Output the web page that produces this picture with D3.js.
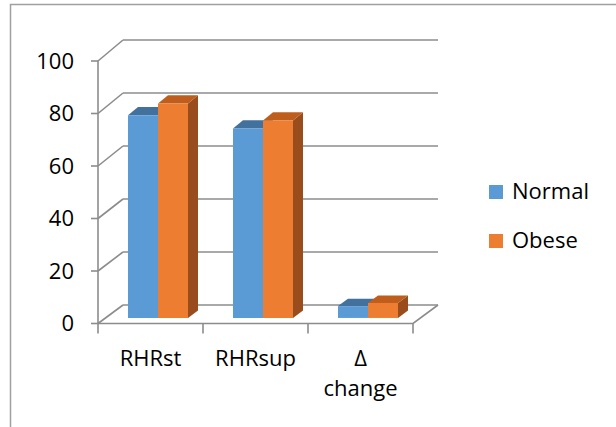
<!DOCTYPE html>
<html>
<head>
<meta charset="utf-8">
<script src="https://cdn.jsdelivr.net/npm/d3@7"></script>
<style>
  body { margin: 0; background: #fff; }
  text { font-family: 'Open Sans', sans-serif; fill: #000; }
</style>
</head>
<body>
<div id="chart"></div>
<script>
const categories = [['RHRst'], ['RHRsup'], ['\u0394', 'change']]
const seriesNames = ['Normal', 'Obese']
const normal = [77, 72, 4.5]
const obese = [81.5, 75, 5.7]
const yTicks = [0, 20, 40, 60, 80, 100]

const colors = {
  Normal: { front: '#5b9bd5', top: '#41719c', side: '#3f6e9a' },
  Obese: { front: '#ed7d31', top: '#bf5e1c', side: '#9a4d1c' }
}

const w = 616, h = 427
const depth = 25 // x shift from front to back wall
const gridColor = '#8c8c8c'
const fontSize = '22px'

const svg = d3.select('#chart').append('svg').attr('width', w).attr('height', h)

// outer frame (only top and left edge visible)
svg.append('path')
  .attr('d', 'M10.5,427V4.5H616')
  .attr('fill', 'none').attr('stroke', '#a0a0a0').attr('stroke-width', 1.5)

const keys = categories.map((c, i) => i)
let x0 = d3.scaleBand().domain(keys).range([98, 413])
let yFront = d3.scaleLinear().domain([0, 100]).range([323.5, 61])
let yBack = d3.scaleLinear().domain([0, 100]).range([305, 40])

// point on a plane between front (t=0) and back (t=1)
function proj (xf, v, t) {
  return [xf + depth * t, yFront(v) + t * (yBack(v) - yFront(v))]
}

const grid = svg.append('g').attr('fill', 'none').attr('stroke', gridColor).attr('stroke-width', 1.6)

// back wall lines
grid.selectAll('.back')
  .data(yTicks)
  .enter()
  .append('line')
  .attr('x1', 98 + depth).attr('x2', 413 + depth)
  .attr('y1', d => yBack(d)).attr('y2', d => yBack(d))

// left wall diagonals
grid.selectAll('.side')
  .data(yTicks)
  .enter()
  .append('line')
  .attr('x1', 98).attr('x2', 98 + depth)
  .attr('y1', d => yFront(d)).attr('y2', d => yBack(d))

// y axis + ticks
grid.append('line').attr('x1', 98).attr('x2', 98).attr('y1', yFront(100)).attr('y2', yFront(0))
grid.selectAll('.ytick')
  .data(yTicks)
  .enter()
  .append('line')
  .attr('x1', 91).attr('x2', 98)
  .attr('y1', d => yFront(d)).attr('y2', d => yFront(d))

// floor
grid.append('path')
  .attr('d', `M98,${yFront(0)}H413L${413 + depth},${yBack(0)}`)
grid.selectAll('.xtick')
  .data(keys.concat([keys.length]))
  .enter()
  .append('line')
  .attr('x1', d => 98 + d * x0.bandwidth()).attr('x2', d => 98 + d * x0.bandwidth())
  .attr('y1', yFront(0)).attr('y2', yFront(0) + 10)

// y labels
svg.selectAll('.ylab')
  .data(yTicks)
  .enter()
  .append('text')
  .attr('x', 74)
  .attr('y', d => yFront(d))
  .attr('dy', '0.36em')
  .attr('text-anchor', 'end')
  .style('font-size', fontSize)
  .text(d => d)

// x labels
svg.selectAll('.xlab')
  .data(categories)
  .enter()
  .append('text')
  .attr('text-anchor', 'middle')
  .style('font-size', fontSize)
  .attr('transform', (d, i) => `translate(${x0(i) + x0.bandwidth() / 2}, 366)`)
  .selectAll('tspan')
  .data(d => d)
  .enter()
  .append('tspan')
  .attr('x', 0)
  .attr('y', (d, i) => i * 30)
  .text(d => d)

// bars
let x1 = d3.scaleBand().domain(seriesNames).range([22.5, 82.5])
let t0 = 0.3, t1 = 0.7
let bars = []
seriesNames.forEach((s, si) => {
  let vals = si === 0 ? normal : obese
  vals.forEach((v, i) => bars.push({ s, i, v }))
})

const barG = svg.append('g')
bars.forEach(b => {
  let xl = x0(b.i) + x1(b.s), xr = xl + x1.bandwidth()
  let fbl = proj(xl, 0, t0), ftl = proj(xl, b.v, t0), ftr = proj(xr, b.v, t0), fbr = proj(xr, 0, t0)
  let btl = proj(xl, b.v, t1), btr = proj(xr, b.v, t1), bbr = proj(xr, 0, t1)
  let c = colors[b.s]
  let g = barG.append('g')
  g.append('path')
    .attr('d', 'M' + [fbr, ftr, btr, bbr].join('L') + 'Z')
    .attr('fill', c.side)
  g.append('path')
    .attr('d', 'M' + [ftl, ftr, btr, btl].join('L') + 'Z')
    .attr('fill', c.top)
  g.append('path')
    .attr('d', 'M' + [fbl, ftl, ftr, fbr].join('L') + 'Z')
    .attr('fill', c.front)
})

// legend
const legend = svg.selectAll('.legend')
  .data(seriesNames)
  .enter()
  .append('g')
  .attr('transform', (d, i) => `translate(489, ${185 + i * 49})`)
legend.append('rect')
  .attr('width', 14).attr('height', 14)
  .attr('fill', d => colors[d].front)
legend.append('text')
  .attr('x', 23).attr('y', 14)
  .style('font-size', fontSize)
  .text(d => d)
</script>
</body>
</html>
